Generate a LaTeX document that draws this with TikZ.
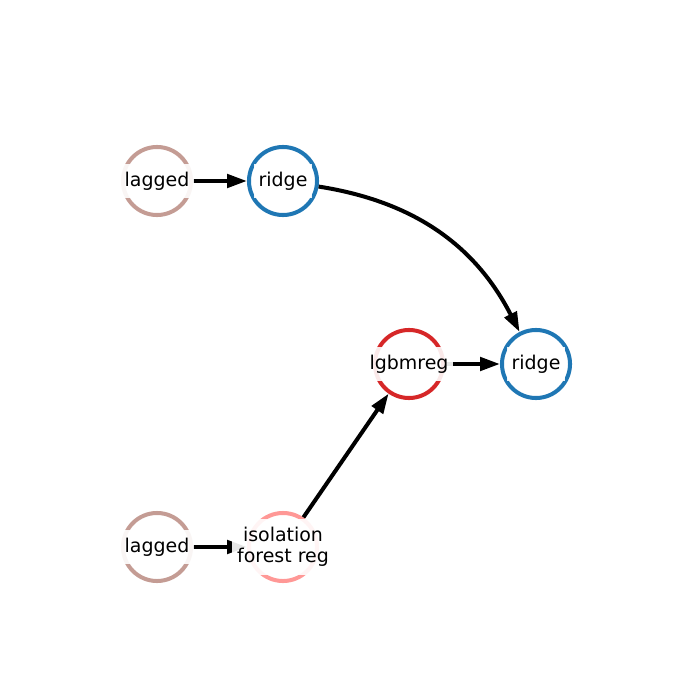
\documentclass[tikz,border=0pt]{standalone}
\usepackage{fontspec}
\setmainfont{DejaVu Sans}
\usetikzlibrary{arrows.meta,positioning}

\begin{document}
\begin{tikzpicture}[
    x=0.01in, y=0.01in,
    nodebox/.style={circle, minimum size=0.68in, inner sep=0pt, line width=2.9pt},
    laggedbox/.style={nodebox, draw={rgb,255:red,196;green,156;blue,148}},
    ridgebox/.style={nodebox, draw={rgb,255:red,31;green,119;blue,180}},
    lgbmbox/.style={nodebox, draw={rgb,255:red,214;green,39;blue,40}},
    isobox/.style={nodebox, draw={rgb,255:red,255;green,152;blue,150}},
    labelbox/.style={rectangle, fill=white, fill opacity=0.9, text opacity=1, inner xsep=3.5pt, inner ysep=6pt, align=center, font=\fontsize{13.7}{15.3}\selectfont},
    arrow/.style={line width=2.9pt, -{Triangle[length=14.4pt, width=9.6pt]}}
]
\useasboundingbox (0,0) rectangle (700,-700);

% Pipeline steps
\node[laggedbox] (lag1) at (157,-181) {};
\node[ridgebox] (rdg1) at (283,-181) {};
\node[lgbmbox] (lgbm) at (409,-364) {};
\node[ridgebox] (rdg2) at (536,-364) {};
\node[laggedbox] (lag2) at (157,-547) {};
\node[isobox] (iso) at (283,-547) {};

% Arrows
\draw[arrow] (lag1) -- (rdg1);
\draw[arrow] (rdg1) to[bend left=27] (rdg2);
\draw[arrow] (lgbm) -- (rdg2);
\draw[arrow] (lag2) -- (iso);
\draw[arrow] (iso) -- (lgbm);

% Labels
\node[labelbox] (lag1lbl) at (lag1) {lagged};
\node[labelbox] (rdg1lbl) at (rdg1) {ridge};
\node[labelbox] (lgbmlbl) at (lgbm) {lgbmreg};
\node[labelbox] (rdg2lbl) at (rdg2) {ridge};
\node[labelbox] (lag2lbl) at (lag2) {lagged};
\node[labelbox] (isolbl) at (iso) {isolation\\forest reg};

\end{tikzpicture}
\end{document}
